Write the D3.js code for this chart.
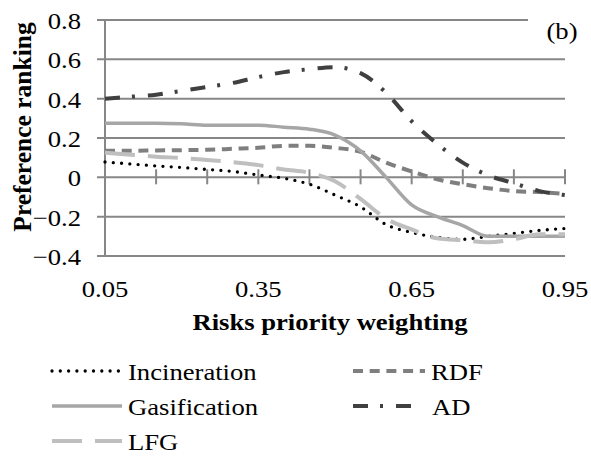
<!DOCTYPE html>
<html>
<head>
<meta charset="utf-8">
<script src="https://cdn.jsdelivr.net/npm/d3@7"></script>
<style>
  body { margin: 0; background: #fff; }
</style>
</head>
<body>
<script>
// risks priority weighting on the x axis, 0.05 .. 0.95 in steps of 0.05
var weights = [0.05,0.10,0.15,0.20,0.25,0.30,0.35,0.40,0.45,0.50,0.55,0.60,0.65,0.70,0.75,0.80,0.85,0.90,0.95];

var incineration = [0.078,0.068,0.058,0.050,0.040,0.030,0.012,-0.005,-0.035,-0.090,-0.150,-0.240,-0.280,-0.305,-0.315,-0.300,-0.285,-0.270,-0.260];
var rdf          = [0.135,0.135,0.137,0.138,0.140,0.145,0.150,0.160,0.160,0.150,0.130,0.075,0.030,-0.010,-0.035,-0.055,-0.070,-0.075,-0.085];
var gasification = [0.275,0.275,0.275,0.272,0.265,0.265,0.265,0.255,0.245,0.215,0.135,0.000,-0.140,-0.200,-0.245,-0.300,-0.300,-0.300,-0.300];
var ad           = [0.400,0.410,0.420,0.440,0.460,0.480,0.510,0.535,0.550,0.560,0.530,0.430,0.285,0.170,0.075,0.010,-0.030,-0.070,-0.090];
var lfg          = [0.125,0.115,0.105,0.098,0.088,0.077,0.062,0.040,0.023,-0.020,-0.110,-0.210,-0.265,-0.310,-0.320,-0.330,-0.315,-0.290,-0.290];

var yTicks = [-0.4,-0.2,0,0.2,0.4,0.6,0.8];
var xTickMarks = [0.05,0.15,0.25,0.35,0.45,0.55,0.65,0.75,0.85,0.95];
var xTickLabels = [0.05,0.35,0.65,0.95];

var w = 591, h = 458;
var font = "'Liberation Serif'";
var sx = 1.11; // the original picture is a bit wider than tall

var series = [
  {name: "Incineration", values: incineration, color: "#000000", width: 3.3, dash: "0 8.3",      cap: "round"},
  {name: "RDF",          values: rdf,          color: "#7f7f7f", width: 4,   dash: "10 6.7",     cap: "butt"},
  {name: "Gasification", values: gasification, color: "#a6a6a6", width: 3.5, dash: null,         cap: "butt"},
  {name: "AD",           values: ad,           color: "#404040", width: 4,   dash: "15 12 3 13", cap: "butt"},
  {name: "LFG",          values: lfg,          color: "#bfbfbf", width: 4,   dash: "30 13",      cap: "butt"}
];

var x = d3.scaleLinear().domain([0.05, 0.95]).range([105, 565]);
var y = d3.scaleLinear().domain([-0.4, 0.8]).range([256, 20]);

var svg = d3.select("body").append("svg")
            .attr("width", w)
            .attr("height", h);

function label(px, py, txt, anchor, size, weight) {
  return svg.append("text")
            .attr("transform", "translate(" + px + "," + py + ") scale(" + sx + ",1)")
            .attr("text-anchor", anchor)
            .style("font-family", font)
            .style("font-size", size + "px")
            .style("font-weight", weight || "normal")
            .attr("fill", "#000")
            .text(txt);
}

// gridlines (top one stops short of the "(b)" label)
svg.selectAll("line.grid")
   .data(yTicks)
   .enter().append("line")
   .attr("class", "grid")
   .attr("x1", 97)
   .attr("x2", function(d) { return d === 0.8 ? 528 : 565; })
   .attr("y1", function(d) { return y(d); })
   .attr("y2", function(d) { return y(d); })
   .attr("stroke", "#878787")
   .attr("stroke-width", 2);

// vertical axis line
svg.append("line")
   .attr("x1", x(0.05)).attr("x2", x(0.05))
   .attr("y1", y(0.8)).attr("y2", y(-0.4))
   .attr("stroke", "#878787")
   .attr("stroke-width", 2);

// tick marks crossing the zero line
svg.selectAll("line.xtick")
   .data(xTickMarks)
   .enter().append("line")
   .attr("class", "xtick")
   .attr("x1", function(d) { return x(d); })
   .attr("x2", function(d) { return x(d); })
   .attr("y1", y(0) - 8)
   .attr("y2", y(0) + 7)
   .attr("stroke", "#878787")
   .attr("stroke-width", 2);

// y tick labels
yTicks.forEach(function(d) {
  label(81, y(d) + 9, d === 0 ? "0" : d3.format(".1f")(d), "end", 24);
});

// x tick labels
xTickLabels.forEach(function(d) {
  label(x(d), 297, d3.format(".2f")(d), "middle", 24);
});

// axis titles
label(330, 330, "Risks priority weighting", "middle", 24, "bold");

svg.append("text")
   .attr("transform", "translate(31,127) rotate(-90)")
   .attr("text-anchor", "middle")
   .style("font-family", font)
   .style("font-size", "25.5px")
   .style("font-weight", "bold")
   .attr("fill", "#000")
   .text("Preference ranking");

label(562, 39, "(b)", "middle", 24);

// series lines
var line = d3.line()
             .x(function(d, i) { return x(weights[i]); })
             .y(function(d) { return y(d); })
             .curve(d3.curveMonotoneX);

svg.selectAll("path.series")
   .data(series)
   .enter().append("path")
   .attr("class", "series")
   .attr("d", function(d) { return line(d.values); })
   .attr("fill", "none")
   .attr("stroke", function(d) { return d.color; })
   .attr("stroke-width", function(d) { return d.width; })
   .attr("stroke-dasharray", function(d) { return d.dash; })
   .attr("stroke-linecap", function(d) { return d.cap; });

// legend
var legendPos = [
  {x: 52,  y: 380, len: 70, tx: 128},
  {x: 353, y: 380, len: 72, tx: 431},
  {x: 52,  y: 415, len: 70, tx: 128},
  {x: 353, y: 415, len: 62, tx: 432},
  {x: 52,  y: 450, len: 70, tx: 128}
];

svg.selectAll("line.legend")
   .data(series)
   .enter().append("line")
   .attr("class", "legend")
   .attr("x1", function(d, i) { return legendPos[i].x; })
   .attr("x2", function(d, i) { return legendPos[i].x + legendPos[i].len; })
   .attr("y1", function(d, i) { return legendPos[i].y - 9; })
   .attr("y2", function(d, i) { return legendPos[i].y - 9; })
   .attr("stroke", function(d) { return d.color; })
   .attr("stroke-width", function(d) { return d.width; })
   .attr("stroke-dasharray", function(d) { return d.dash; })
   .attr("stroke-linecap", function(d) { return d.cap; });

series.forEach(function(d, i) {
  label(legendPos[i].tx, legendPos[i].y, d.name, "start", 24);
});
</script>
</body>
</html>
